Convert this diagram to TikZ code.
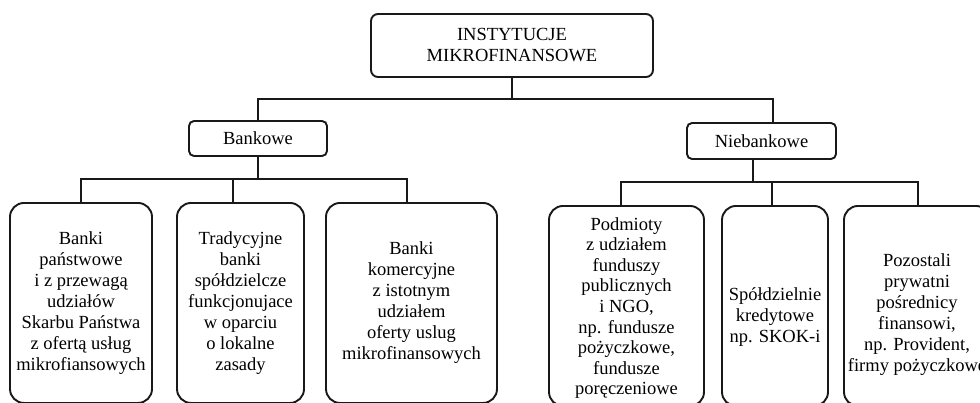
\documentclass[tikz,border=0pt]{standalone}
\usepackage{fontspec}
\setmainfont{Liberation Serif}
\usetikzlibrary{calc,positioning}
\newcommand{\boxfont}{\fontsize{18.5}{21}\selectfont}

\begin{document}
\begin{tikzpicture} [x=1pt,y=-1pt,{place/.style={rectangle,draw=black!90,line width=1.9pt,rounded corners=14pt,align=center,inner sep=0pt,font=\boxfont,minimum height=200pt,anchor=north}},{place2/.style={rectangle,draw=black!90,line width=1.9pt,rounded corners=5pt,align=center,inner sep=0pt,font=\boxfont}},{linest/.style={color=black!90,line width=1.4pt}}]
	%%frame of the page
	\useasboundingbox (0,0) rectangle (980,402);
	\clip (0,0) rectangle (980,402);
	%%top of the tree
	\node [place2,rounded corners=7pt,minimum width=282pt,minimum height=63pt] (inst) at (512,45.5) {INSTYTUCJE\\MIKROFINANSOWE};
	\node [place2,minimum width=138pt,minimum height=35pt] (bank) at (258,138.5) {Bankowe};
	\node [place2,minimum width=149pt,minimum height=36pt] (niebank) at (761.5,141) {Niebankowe};
	%%banks
	\node [place,minimum width=142pt] (b1) at (81,202) {Banki\\państwowe\\i z przewagą\\udziałów\\Skarbu Państwa\\z ofertą usług\\mikrofiansowych};
	\node [place,minimum width=127pt] (b2) at (240.5,202) {Tradycyjne\\banki\\spółdzielcze\\funkcjonujace\\w oparciu\\o lokalne\\zasady};
	\node [place,minimum width=171pt] (b3) at (411.5,202) {Banki\\komercyjne\\z istotnym\\udziałem\\oferty uslug\\mikrofinansowych};
	%%non-banks
	\node [place,minimum width=155pt,font=\fontsize{18.5}{20.6}\selectfont] (n1) at (626.5,205) {\rule{0pt}{17pt}Podmioty\\z udziałem\\funduszy\\publicznych\\i NGO,\\np. fundusze\\pożyczkowe,\\fundusze\\poręczeniowe};
	\node [place,minimum width=106pt] (n2) at (775,205) {\rule{0pt}{36pt}Spółdzielnie\\kredytowe\\np. SKOK-i};
	\node [place,minimum width=146pt] (n3) at (917,205) {\rule{0pt}{30pt}Pozostali\\prywatni\\pośrednicy\\finansowi,\\np. Provident,\\firmy pożyczkowe};
	%%connectors
	\coordinate (mainbar) at (512,99);
	\coordinate (lbar) at (258,179);
	\coordinate (rbar) at (753,182);
	\draw [linest] (inst) -- (mainbar);
	\draw [linest] (bank) |- (mainbar) -| ([xshift=11.5pt]niebank.north);
	\draw [linest] (bank) -- (lbar);
	\draw [linest] (b1.north) |- (lbar) -| ([xshift=-4.5pt]b3.north);
	\draw [linest] ([xshift=-7.5pt]b2.north) -- ([xshift=-7.5pt]b2.north |- lbar);
	\draw [linest,line width=2pt] ([xshift=-8.5pt]niebank.south) -- (rbar);
	\draw [linest,line width=2pt] ([xshift=-5.5pt]n1.north) |- (rbar) -| ([xshift=1pt]n3.north);
	\draw [linest,line width=2pt] ([xshift=-3pt]n2.north) -- ([xshift=-3pt]n2.north |- rbar);
\end{tikzpicture}
\end{document}
